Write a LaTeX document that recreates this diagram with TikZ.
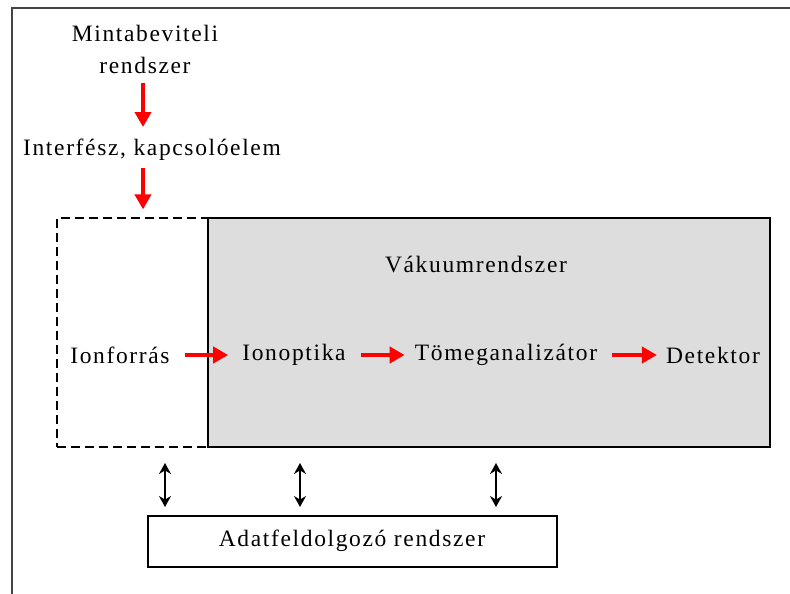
\documentclass[tikz,border=0pt]{standalone}
\usepackage{fontspec}
\setmainfont{Liberation Serif}[LetterSpace=7]
\usetikzlibrary{arrows.meta,positioning}
\definecolor{boxgray}{HTML}{DDDDDD}
\definecolor{framegray}{HTML}{444444}
\tikzset{
  label/.style={font=\fontsize{23.5}{32}\selectfont, inner sep=0pt, align=center},
  redarrow/.style={red, line width=4pt, -{Triangle[length=15pt,width=16pt]}},
  linkarrow/.style={black, line width=1.6pt, {Stealth[length=11pt,width=12pt]}-{Stealth[length=11pt,width=12pt]}}
}
\begin{document}
\begin{tikzpicture}[x=1pt,y=-1pt]
    \useasboundingbox (0,0) rectangle (790,594);
    % outer frame
    \draw[framegray, line width=2pt] (12,600) -- (12,8) -- (800,8);

    % boxes
    \node[draw, dash pattern=on 9pt off 5pt, line width=1.2pt, minimum width=151pt, minimum height=229pt, inner sep=0pt] (ionbox) at (132.5,332.5) {};
    \node[draw, fill=boxgray, line width=1.2pt, minimum width=562pt, minimum height=229pt, inner sep=0pt] (vacuum) at (489,332.5) {};
    \node[draw, line width=1.2pt, minimum width=409pt, minimum height=51pt, inner sep=0pt] (adat) at (352.5,541.5) {};

    % texts
    \node[label] (minta) at (145,49) {Mintabeviteli\\rendszer};
    \node[label] (interf) at (152,150) {Interfész, kapcsolóelem};
    \node[label] (vaktxt) at (476,265) {Vákuumrendszer};
    \node[label] (ionforras) at (120,355) {Ionforrás};
    \node[label] (ionoptika) at (294,355) {Ionoptika};
    \node[label] (tomeg) at (506,355) {Tömeganalizátor};
    \node[label] (detektor) at (713,355) {Detektor};
    \node[label] (adattxt) at (352,541) {Adatfeldolgozó rendszer};

    % red flow arrows
    \coordinate (mx) at (143,0);
    \draw[redarrow] (143,83) -- (interf.north -| mx) [shorten >=12pt];
    \draw[redarrow, shorten <=7pt, shorten >=8pt] (interf.south -| mx) -- (ionbox.north -| mx);
    \draw[redarrow, shorten <=15pt, shorten >=14pt] (ionforras.east) -- (ionoptika.west);
    \draw[redarrow, shorten <=15pt, shorten >=10pt] (ionoptika.east) -- (tomeg.west);
    \draw[redarrow, shorten <=15pt, shorten >=9pt] (tomeg.east) -- (detektor.west);

    % data links
    \foreach \lx in {165,300,496}
      \draw[linkarrow, shorten <=16pt, shorten >=9pt] (\lx,447) -- (\lx,516);
\end{tikzpicture}
\end{document}
